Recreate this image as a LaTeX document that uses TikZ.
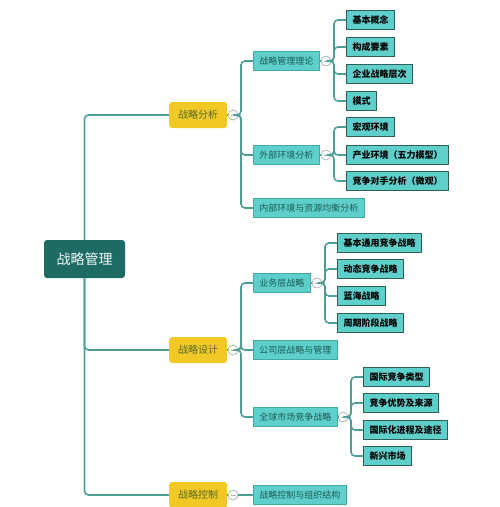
\documentclass[tikz,border=0pt]{standalone}
\usepackage{fontspec}
\setmainfont{Noto Sans CJK SC}
\usepackage{tikz}
\definecolor{rootteal}{HTML}{1D6B63}
\definecolor{linkteal}{HTML}{4E9E98}
\definecolor{sunyellow}{HTML}{F2C924}
\definecolor{olivetext}{HTML}{556B2A}
\definecolor{aqua}{HTML}{5FCFCB}
\definecolor{aquaedge}{HTML}{3FA9A4}
\definecolor{darkedge}{HTML}{2E5E5A}
\definecolor{foldgrey}{HTML}{A9B7B6}
\tikzset{
  root/.style={fill=rootteal, rounded corners=3pt, text=white!90!aqua, inner xsep=12.5pt, minimum height=38pt, font=\fontsize{14}{16}\selectfont},
  topic/.style={fill=sunyellow, rounded corners=3pt, text=olivetext, inner xsep=9pt, minimum height=26pt, anchor=west, font=\fontsize{10}{12}\selectfont},
  subtopic/.style={fill=aqua, draw=aquaedge, line width=0.7pt, text=rootteal!85!black, inner xsep=6pt, minimum height=18.5pt, anchor=west, font=\fontsize{9}{10}\selectfont},
  leaf/.style={fill=aqua, draw=darkedge, line width=1pt, text=black, inner xsep=6pt, minimum height=18.5pt, anchor=west, font=\fontsize{9}{10}\selectfont\bfseries},
  link/.style={draw=linkteal, line width=1.6pt, rounded corners=4pt},
  foldmark/.style={circle, draw=foldgrey, fill=white, line width=0.8pt, minimum size=10pt, inner sep=0pt,
    path picture={\draw[foldgrey, line width=0.7pt] ([xshift=2.5pt]path picture bounding box.west) -- ([xshift=-2.5pt]path picture bounding box.east);}}
}
\newcommand{\fork}[3]{\draw[link] (#1.east) -- (#2) |- (#3.west)}

\begin{document}
\begin{tikzpicture}[x=1pt, y=-1pt]
  \useasboundingbox (0,0) rectangle (500,507);

  % root and first level
  \node[root] (root) at (84.5,259) {战略管理};
  \node[topic] (ana) at (169,115) {战略分析};
  \node[topic] (des) at (169,350) {战略设计};
  \node[topic] (ctl) at (169,495) {战略控制};

  \draw[link] (root.north) |- (ana.west);
  \draw[link] (root.south) |- (des.west);
  \draw[link] (root.south) |- (ctl.west);

  \node[foldmark] (fana) at (233,115) {};
  \node[foldmark] (fdes) at (233,350) {};
  \node[foldmark] (fctl) at (233,495) {};
  \draw[link] (ana.east) -- (fana.west);
  \draw[link] (des.east) -- (fdes.west);
  \draw[link] (ctl.east) -- (fctl.west);

  % second level
  \node[subtopic] (theory) at (253,61) {战略管理理论};
  \node[subtopic] (outer) at (253,155) {外部环境分析};
  \node[subtopic] (inner) at (253,208) {内部环境与资源均衡分析};
  \node[subtopic] (biz) at (253,283) {业务层战略};
  \node[subtopic] (corp) at (253,350) {公司层战略与管理};
  \node[subtopic] (globe) at (253,417) {全球市场竞争战略};
  \node[subtopic] (org) at (253,495) {战略控制与组织结构};

  \coordinate (jana) at (241,115);
  \coordinate (jdes) at (241,350);
  \fork{fana}{jana}{theory};
  \fork{fana}{jana}{outer};
  \fork{fana}{jana}{inner};
  \fork{fdes}{jdes}{biz};
  \fork{fdes}{jdes}{corp};
  \fork{fdes}{jdes}{globe};
  \draw[link] (fctl.east) -- (org.west);

  \node[foldmark] (ftheory) at (326,61) {};
  \node[foldmark] (fouter) at (326,155) {};
  \node[foldmark] (fbiz) at (317,283) {};
  \node[foldmark] (fglobe) at (343,417) {};
  \draw[link] (theory.east) -- (ftheory.west);
  \draw[link] (outer.east) -- (fouter.west);
  \draw[link] (biz.east) -- (fbiz.west);
  \draw[link] (globe.east) -- (fglobe.west);

  % third level
  \node[leaf] (concept) at (346,20) {基本概念};
  \node[leaf] (element) at (346,47) {构成要素};
  \node[leaf] (layer) at (346,74) {企业战略层次};
  \node[leaf] (mode) at (346,101) {模式};
  \node[leaf] (macro) at (346,127) {宏观环境};
  \node[leaf] (industry) at (346,155) {产业环境（五力模型）};
  \node[leaf] (rival) at (346,181) {竞争对手分析（微观）};

  \coordinate (jtheory) at (334,61);
  \coordinate (jouter) at (334,155);
  \foreach \k in {concept, element, layer, mode} {\fork{ftheory}{jtheory}{\k};}
  \foreach \k in {macro, industry, rival} {\fork{fouter}{jouter}{\k};}

  \node[leaf] (generic) at (337,243) {基本通用竞争战略};
  \node[leaf] (dynamic) at (337,269) {动态竞争战略};
  \node[leaf] (blue) at (337,296) {蓝海战略};
  \node[leaf] (cycle) at (337,323) {周期阶段战略};

  \node[leaf] (itype) at (363,377) {国际竞争类型};
  \node[leaf] (edge) at (363,403) {竞争优势及来源};
  \node[leaf] (route) at (363,430) {国际化进程及途径};
  \node[leaf] (emerge) at (363,456) {新兴市场};

  \coordinate (jbiz) at (325,283);
  \coordinate (jglobe) at (351,417);
  \foreach \k in {generic, dynamic, blue, cycle} {\fork{fbiz}{jbiz}{\k};}
  \foreach \k in {itype, edge, route, emerge} {\fork{fglobe}{jglobe}{\k};}
\end{tikzpicture}
\end{document}
